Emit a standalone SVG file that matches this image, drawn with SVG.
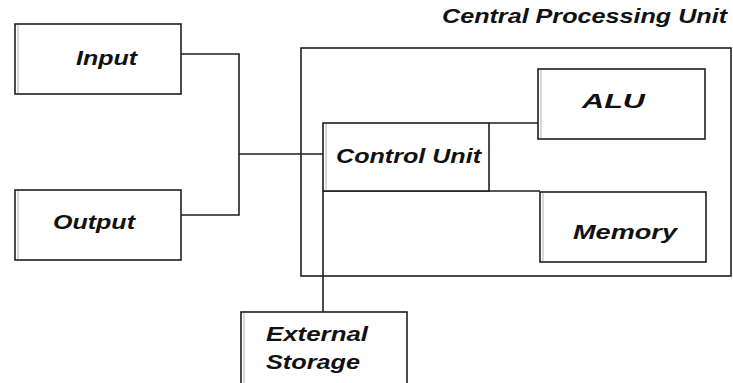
<svg xmlns="http://www.w3.org/2000/svg" width="733" height="383" viewBox="0 0 733 383">
<style>
.box{fill:#fff;stroke:#1e1e1e;stroke-width:1.6}
.shade{stroke:#d8d8d8;stroke-width:2}
.lbl{font-family:"Liberation Sans",Arial,sans-serif;font-weight:bold;font-style:italic;font-size:21px;fill:#111}
.wire{fill:none;stroke:#1e1e1e;stroke-width:1.6}
</style>
<rect width="733" height="383" fill="#fff"/>
<g id="cpu">
<rect class="box" x="301" y="48" width="430" height="228"/>
<text class="lbl" x="442" y="23" textLength="285" lengthAdjust="spacingAndGlyphs" style="font-size:20px">Central Processing Unit</text>
</g>
<g id="connectors">
<polyline class="wire" points="181,54 239,54 239,215 181,215"/>
<line class="wire" x1="239" y1="154" x2="323" y2="154"/>
<line class="wire" x1="489" y1="123" x2="538" y2="123"/>
<line class="wire" x1="323" y1="191" x2="540" y2="191"/>
<line class="wire" x1="323" y1="191" x2="323" y2="312"/>
</g>
<g id="input">
<rect class="box" x="15" y="24" width="166" height="70"/>
<line class="shade" x1="18" y1="25" x2="18" y2="93"/>
<text class="lbl" x="76" y="65" textLength="61" lengthAdjust="spacingAndGlyphs">Input</text>
</g>
<g id="output">
<rect class="box" x="15" y="190" width="166" height="70"/>
<line class="shade" x1="18" y1="191" x2="18" y2="259"/>
<text class="lbl" x="53" y="229" textLength="82" lengthAdjust="spacingAndGlyphs">Output</text>
</g>
<g id="alu">
<rect class="box" x="538" y="69" width="167" height="70"/>
<line class="shade" x1="541" y1="70" x2="541" y2="138"/>
<text class="lbl" x="582" y="108" textLength="63" lengthAdjust="spacingAndGlyphs">ALU</text>
</g>
<g id="control-unit">
<rect class="box" x="323" y="123" width="166" height="68"/>
<line class="shade" x1="326" y1="124" x2="326" y2="190"/>
<text class="lbl" x="336" y="163" textLength="145" lengthAdjust="spacingAndGlyphs">Control Unit</text>
</g>
<g id="memory">
<rect class="box" x="540" y="192" width="166" height="70"/>
<line class="shade" x1="543" y1="193" x2="543" y2="261"/>
<text class="lbl" x="573" y="239" textLength="104" lengthAdjust="spacingAndGlyphs">Memory</text>
</g>
<g id="external-storage">
<rect class="box" x="241" y="312" width="166" height="72"/>
<line class="shade" x1="244" y1="313" x2="244" y2="383"/>
<text class="lbl" x="266" y="341" textLength="102" lengthAdjust="spacingAndGlyphs">External</text>
<text class="lbl" x="266" y="369" textLength="94" lengthAdjust="spacingAndGlyphs">Storage</text>
</g>
</svg>
